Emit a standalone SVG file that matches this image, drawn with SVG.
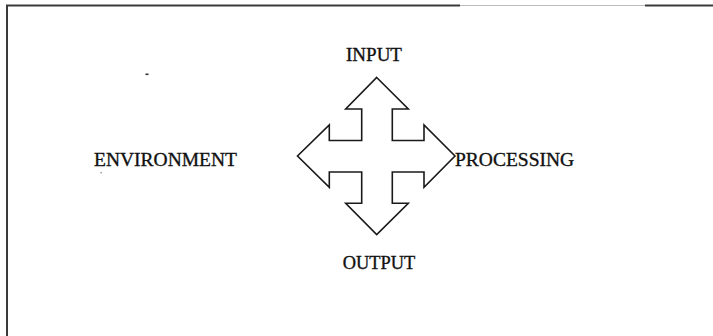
<svg xmlns="http://www.w3.org/2000/svg" width="713" height="336" viewBox="0 0 713 336">
  <style>
    .label { font-family: "Liberation Serif", "Times New Roman", serif; fill: #111; stroke: #111; stroke-width: 0.35; }
    .frame { fill: none; stroke: #3a3a3a; stroke-width: 2; }
    .arrow { fill: #fff; stroke: #1a1a1a; stroke-width: 1.6; stroke-linejoin: miter; }
  </style>
  <rect width="713" height="336" fill="#fff"/>

  <!-- page frame: top and left edges only -->
  <path class="frame" d="M7,336 V5.5 H460"/>
  <path d="M460,5.5 H645" fill="none" stroke="#bbb" stroke-width="1.2"/>
  <path class="frame" d="M645,5.5 H713"/>

  <!-- four-way arrow -->
  <g id="cross-arrow">
    <path class="arrow" d="M376.7,77.5 L408.3,109 L392.3,109 L392.3,140.5 L424,140.5 L424,125 L455,156 L424,187.3 L424,172 L392.3,172 L392.3,203.3 L408.3,203.3 L376.7,234.5 L345.7,203.3 L361.7,203.3 L361.7,172 L329.3,172 L329.3,187.3 L297.5,156 L329.3,125 L329.3,140.5 L361.7,140.5 L361.7,109 L345.7,109 Z"/>
  </g>

  <g id="input"><text class="label" x="374" y="60.7" font-size="19" text-anchor="middle">INPUT</text></g>
  <g id="output"><text class="label" x="379" y="269.3" font-size="18.4" text-anchor="middle">OUTPUT</text></g>
  <g id="environment"><text class="label" x="94" y="166" font-size="19.5">ENVIRONMENT</text></g>
  <g id="processing"><text class="label" x="455" y="166" font-size="19.5">PROCESSING</text></g>

  <!-- stray marks -->
  <rect x="145.5" y="73.5" width="3" height="1.6" fill="#333"/>
  <rect x="100.5" y="172.2" width="1.2" height="1.2" fill="#666"/>
</svg>
